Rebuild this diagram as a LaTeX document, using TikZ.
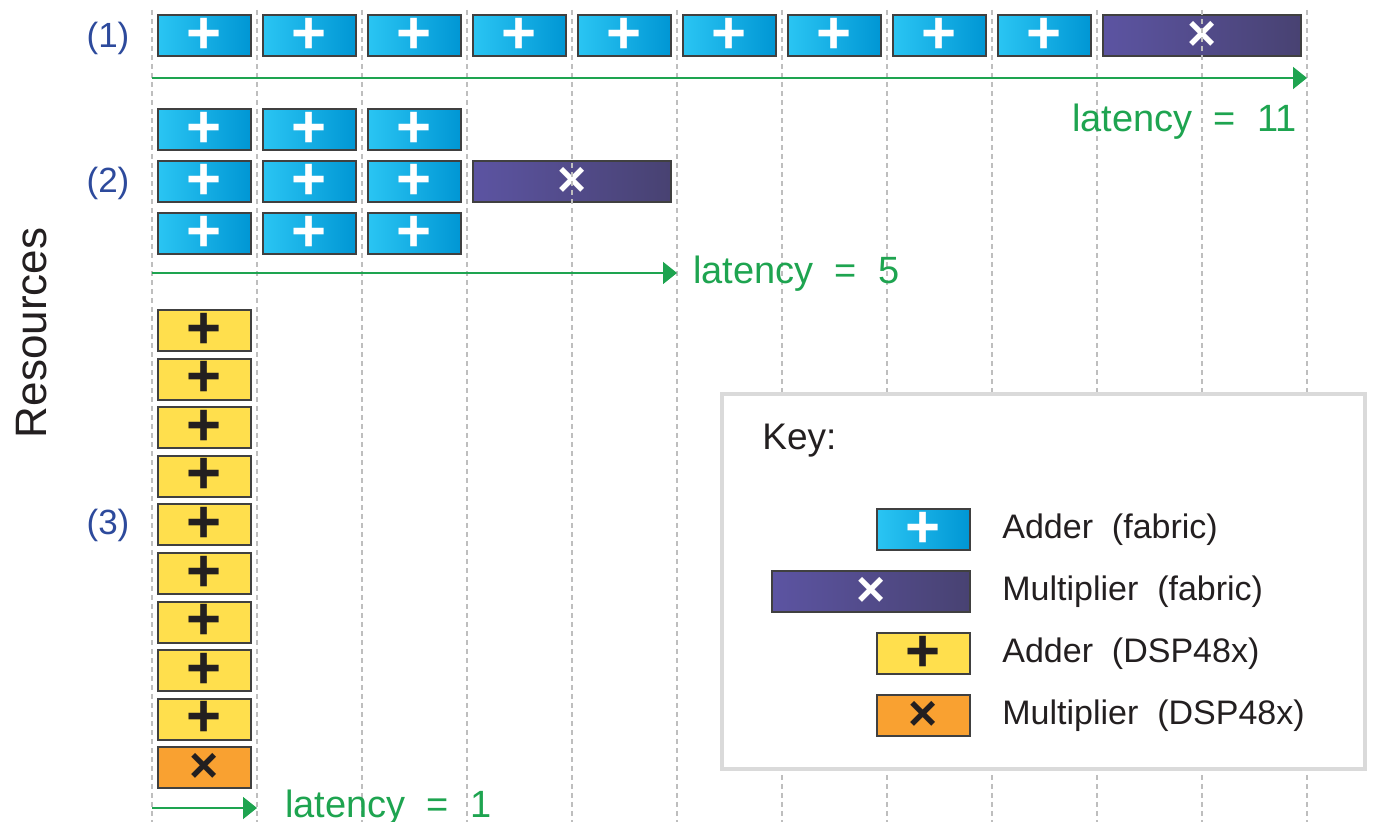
\documentclass[tikz,border=0pt]{standalone}
\usepackage{fontspec}
\setmainfont{Liberation Sans}
\usepackage{tikz}
\usetikzlibrary{arrows.meta,positioning}
\definecolor{addhi}{RGB}{42,197,243}
\definecolor{addmid}{RGB}{0,178,236}
\definecolor{addlo}{RGB}{0,150,212}
\definecolor{mulhi}{RGB}{92,84,162}
\definecolor{mulmid}{RGB}{46,49,146}
\definecolor{mullo}{RGB}{72,66,114}
\definecolor{dspadd}{RGB}{255,223,77}
\definecolor{dspmul}{RGB}{249,161,49}
\definecolor{boxedge}{RGB}{64,64,64}
\definecolor{inkdark}{RGB}{35,31,32}
\definecolor{latgreen}{RGB}{30,164,80}
\definecolor{rowblue}{RGB}{45,74,156}
\definecolor{keygray}{RGB}{218,218,218}
\definecolor{gridgray}{RGB}{190,190,190}
\tikzset{
  opbox/.style = {rectangle, draw=boxedge, line width=1pt, inner sep=0pt,
    outer sep=0pt, minimum width=46.5pt, minimum height=20.5pt},
  add_f/.style = {opbox, left color=addhi, middle color=addmid,
    right color=addlo, text=white, font=\fontsize{30}{30}\selectfont\bfseries},% adder, fabric
  mul_f/.style = {opbox, minimum width=99pt, left color=mulhi,
    middle color=mulmid, right color=mullo, text=white,
    font=\fontsize{25}{25}\selectfont\bfseries},% multiplier, fabric
  add_d/.style = {opbox, fill=dspadd, text=inkdark,
    font=\fontsize{30}{30}\selectfont\bfseries},% adder, DSP48x
  mul_d/.style = {opbox, fill=dspmul, text=inkdark,
    font=\fontsize{25}{25}\selectfont\bfseries},% multiplier, DSP48x
  rowlabel/.style = {inner sep=0pt, text=rowblue,
    font=\fontsize{17.5}{20}\selectfont},
  latlabel/.style = {inner sep=0pt, text=latgreen,
    font=\fontsize{19}{22}\selectfont},
  latarrow/.style = {draw=latgreen, line width=0.85pt,
    -{Triangle[length=7pt,width=11pt]}},
  keytext/.style = {inner sep=0pt, text=inkdark,
    font=\fontsize{17}{20}\selectfont},
  gridline/.style = {draw=gridgray, line width=0.6pt,
    dash pattern=on 2.5pt off 2pt}
}

\begin{document}
\begin{tikzpicture}[x=0.5pt,y=-0.5pt]
\useasboundingbox (0,0) rectangle (1397,822);

% (1) one adder, nine times over
\node [add_f] (a1) at (204.5,35.5) {+};
\node [add_f, right=6pt of a1] (a2) {+};
\node [add_f, right=6pt of a2] (a3) {+};
\node [add_f, right=6pt of a3] (a4) {+};
\node [add_f, right=6pt of a4] (a5) {+};
\node [add_f, right=6pt of a5] (a6) {+};
\node [add_f, right=6pt of a6] (a7) {+};
\node [add_f, right=6pt of a7] (a8) {+};
\node [add_f, right=6pt of a8] (a9) {+};
\node [mul_f, right=6pt of a9] (am) {×};

% (2) three adders side by side
\node [add_f] (b1) at (204.5,129.5) {+};
\node [add_f, right=6pt of b1] (b2) {+};
\node [add_f, right=6pt of b2] (b3) {+};
\node [add_f, below=5.5pt of b1] (c1) {+};
\node [add_f, right=6pt of c1] (c2) {+};
\node [add_f, right=6pt of c2] (c3) {+};
\node [mul_f, right=6pt of c3] (cm) {×};
\node [add_f, below=5.5pt of c1] (d1) {+};
\node [add_f, right=6pt of d1] (d2) {+};
\node [add_f, right=6pt of d2] (d3) {+};

% (3) all in DSP48x
\node [add_d] (e1) at (204.5,330.5) {+};
\node [add_d, below=3.8pt of e1] (e2) {+};
\node [add_d, below=3.8pt of e2] (e3) {+};
\node [add_d, below=3.8pt of e3] (e4) {+};
\node [add_d, below=3.8pt of e4] (e5) {+};
\node [add_d, below=3.8pt of e5] (e6) {+};
\node [add_d, below=3.8pt of e6] (e7) {+};
\node [add_d, below=3.8pt of e7] (e8) {+};
\node [add_d, below=3.8pt of e8] (e9) {+};
\node [mul_d, below=3.8pt of e9] (em) {×};

% time grid
\draw [gridline] (152,10) -- (152,822) (257,10) -- (257,822)
  (362,10) -- (362,822) (467,10) -- (467,822) (572,10) -- (572,822)
  (677,10) -- (677,822) (782,10) -- (782,822) (887,10) -- (887,822)
  (992,10) -- (992,822) (1097,10) -- (1097,822) (1202,10) -- (1202,822)
  (1307,10) -- (1307,822);

\node [rowlabel] (r1) at (108,38) {(1)};
\node [rowlabel] (r2) at (108,183) {(2)};
\node [rowlabel] (r3) at (108,525) {(3)};
\node [rotate=90, inner sep=0pt, text=inkdark,
  font=\fontsize{22}{24}\selectfont] (res) at (32,333) {Resources};

% latencies
\coordinate (s1) at (152,78);
\coordinate (t1) at (1307,78);
\coordinate (s2) at (152,273);
\coordinate (t2) at (677,273);
\coordinate (s3) at (152,808);
\coordinate (t3) at (257,808);
\draw [latarrow] (s1) -- (t1);
\draw [latarrow] (s2) -- (t2);
\draw [latarrow] (s3) -- (t3);
\node [latlabel, anchor=east] (l1) at (1297,122) {latency~~=~~11};
\node [latlabel, anchor=west] (l2) at (693,274) {latency~~=~~5};
\node [latlabel, anchor=west] (l3) at (285,808) {latency~~=~~1};

% key
\node [draw=keygray, line width=2pt, fill=white, minimum width=321.5pt,
  minimum height=187.5pt, inner sep=0pt] (key) at (1043.5,581.5) {};
\node [keytext, anchor=west, font=\fontsize{18.5}{22}\selectfont]
  (keyhead) at (762,441) {Key:};
\node [add_f] (kaf) at (923.5,529.5) {+};
\node [mul_f, below=10.5pt of kaf.south east, anchor=north east] (kmf) {×};
\node [add_d, below=10.5pt of kmf.south east, anchor=north east] (kad) {+};
\node [mul_d, below=10.5pt of kad] (kmd) {×};
\node [keytext, right=16pt of kaf] {Adder~~(fabric)};
\node [keytext, right=16pt of kmf] {Multiplier~~(fabric)};
\node [keytext, right=16pt of kad] {Adder~~(DSP48x)};
\node [keytext, right=16pt of kmd] {Multiplier~~(DSP48x)};
\end{tikzpicture}
\end{document}
